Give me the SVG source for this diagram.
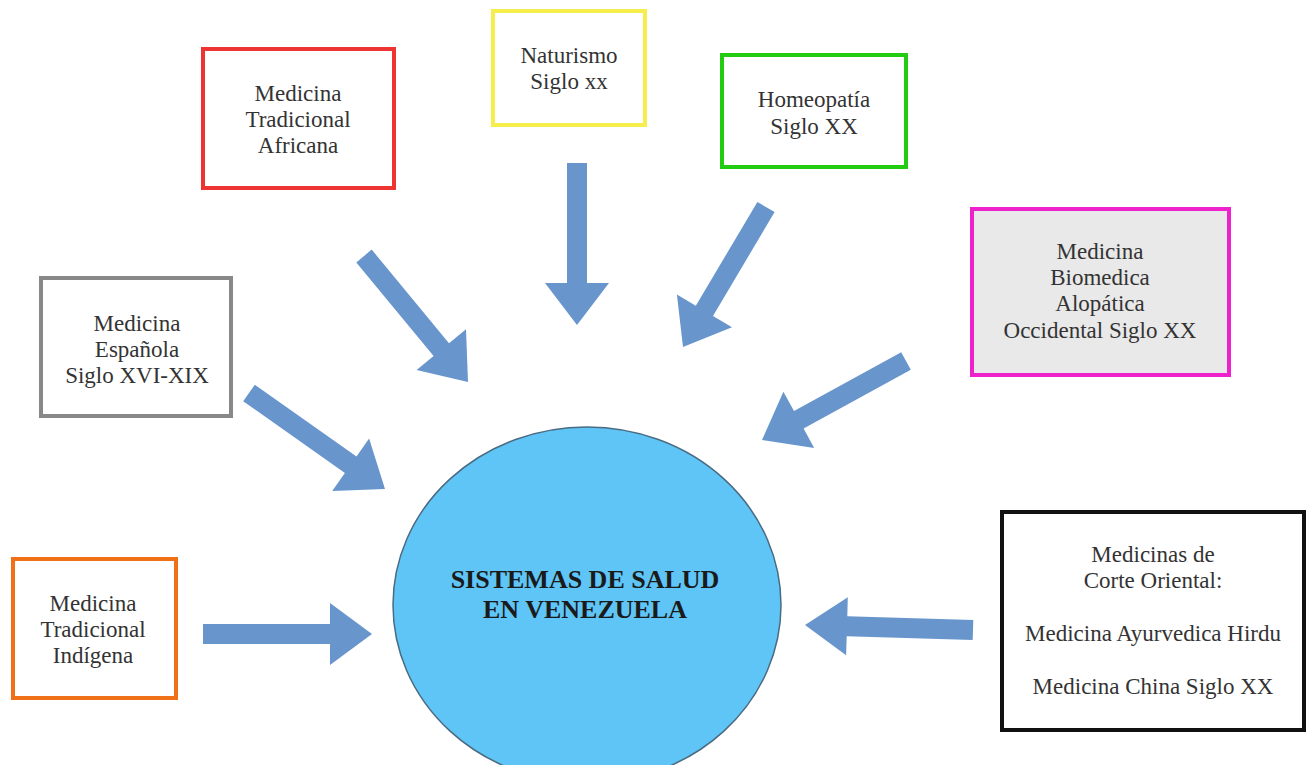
<svg xmlns="http://www.w3.org/2000/svg" width="1307" height="765" viewBox="0 0 1307 765">
<style>
.box{fill:#fff;stroke-width:4}
.t{font-family:"Liberation Serif","Times New Roman",serif;font-size:23px;fill:#333;text-anchor:middle}
.c{font-family:"Liberation Serif","Times New Roman",serif;font-size:26px;font-weight:bold;fill:#1a1a1a;text-anchor:middle}
.arr{fill:#6896cc}
</style>
<rect width="1307" height="765" fill="#fff"/>
<g id="connectors">
<polygon class="arr" points="567,163 567,283 545,283 577,325 609,283 587,283 587,163"/>
<polygon class="arr" points="356.3,262.4 433.6,356 416.6,370 468,382 466,329.2 449,343.2 371.7,249.6"/>
<polygon class="arr" points="243.2,401.2 344.9,473 332.2,490.9 385,489 369.1,438.6 356.5,456.6 254.8,384.8"/>
<polygon class="arr" points="757.4,201.9 695.8,305.8 676.9,294.6 683,347 732,327.2 713,316 774.6,212.1"/>
<polygon class="arr" points="901.2,352.2 794,411 783.4,391.7 762,440 814.2,447.9 803.6,428.6 910.8,369.8"/>
<polygon class="arr" points="973.3,620 847.3,616.3 847.8,597.3 805,625 846.1,655.2 846.7,636.2 972.7,640"/>
<polygon class="arr" points="203,644 330,644 330,665 372,634 330,603 330,624 203,624"/>
</g>
<g id="center">
<ellipse cx="587" cy="605" rx="194" ry="178" fill="#5fc5f7" stroke="#4a6b82" stroke-width="1.5"/>
<text class="c" x="585" y="588">SISTEMAS DE SALUD</text>
<text class="c" x="585" y="618">EN VENEZUELA</text>
</g>
<g id="africana">
<rect class="box" x="203" y="49" width="191" height="139" stroke="#ee3333"/>
<text class="t" x="298" y="101">Medicina</text>
<text class="t" x="298" y="127">Tradicional</text>
<text class="t" x="298" y="153">Africana</text>
</g>
<g id="naturismo">
<rect class="box" x="493" y="11" width="152" height="114" stroke="#f5ee4c"/>
<text class="t" x="569" y="63">Naturismo</text>
<text class="t" x="569" y="89">Siglo xx</text>
</g>
<g id="homeopatia">
<rect class="box" x="722" y="55" width="184" height="112" stroke="#22cc11"/>
<text class="t" x="814" y="107">Homeopatía</text>
<text class="t" x="814" y="134">Siglo XX</text>
</g>
<g id="biomedica">
<rect class="box" x="972" y="209" width="257" height="166" stroke="#ee22cc" style="fill:#e9e9e9"/>
<text class="t" x="1100" y="259">Medicina</text>
<text class="t" x="1100" y="285">Biomedica</text>
<text class="t" x="1100" y="311">Alopática</text>
<text class="t" x="1100" y="338">Occidental Siglo XX</text>
</g>
<g id="espanola">
<rect class="box" x="41" y="278" width="190" height="138" stroke="#888"/>
<text class="t" x="137" y="331">Medicina</text>
<text class="t" x="137" y="357">Española</text>
<text class="t" x="137" y="383">Siglo XVI-XIX</text>
</g>
<g id="indigena">
<rect class="box" x="13" y="559" width="163" height="139" stroke="#f07018"/>
<text class="t" x="93" y="611">Medicina</text>
<text class="t" x="93" y="637">Tradicional</text>
<text class="t" x="93" y="663">Indígena</text>
</g>
<g id="oriental">
<rect class="box" x="1002" y="512" width="302" height="218" stroke="#111"/>
<text class="t" x="1153" y="562">Medicinas de</text>
<text class="t" x="1153" y="588">Corte Oriental:</text>
<text class="t" x="1153" y="641">Medicina Ayurvedica Hirdu</text>
<text class="t" x="1153" y="694">Medicina China Siglo XX</text>
</g>
</svg>
